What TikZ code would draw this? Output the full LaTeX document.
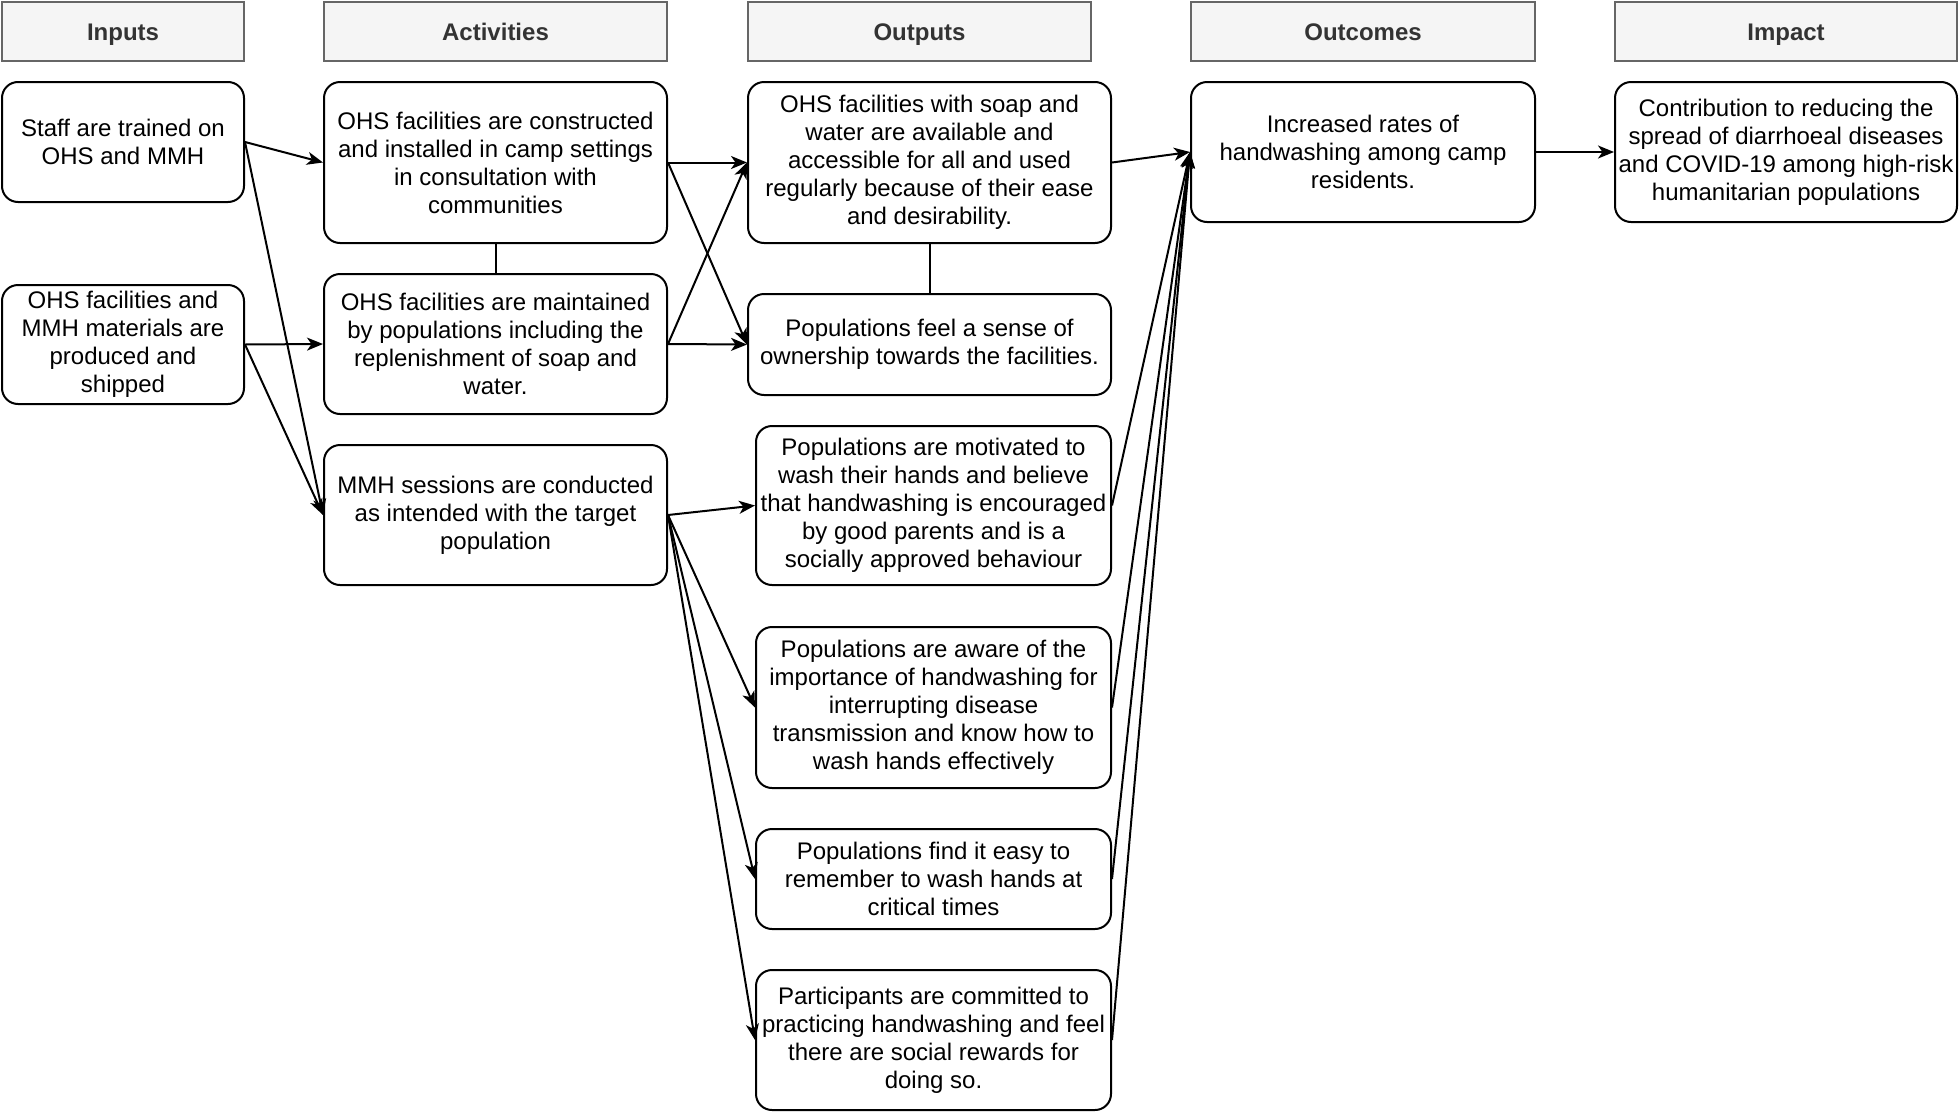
\documentclass[tikz,border=0pt]{standalone}
\usepackage{fontspec}
\setmainfont{Liberation Sans}
\usetikzlibrary{arrows.meta}
\definecolor{headfill}{HTML}{F5F5F5}
\definecolor{headline}{HTML}{666666}
\definecolor{headtext}{HTML}{333333}
\tikzset{
	head/.style={draw=headline,fill=headfill,text=headtext,line width=2pt,inner sep=0pt,minimum height=59pt,text height=17.2pt,text depth=0pt,font=\fontsize{24}{28}\selectfont\bfseries},
	box/.style={draw,rounded corners=16pt,line width=2pt,inner sep=0pt,align=center,font=\fontsize{24}{28}\selectfont},
	conn/.style={line width=2pt,-{Stealth[length=16pt,width=13pt,inset=4.5pt]}},
	link/.style={line width=2pt}
}
\begin{document}
\begin{tikzpicture}[x=1pt,y=-1pt]
			\useasboundingbox (0,0) rectangle (1960,1114);
			% column headers
			\node[head,minimum width=242pt] (hin) at (123,31.5) {Inputs};
			\node[head,minimum width=343pt] (hact) at (495.5,31.5) {Activities};
			\node[head,minimum width=343pt] (hout) at (919.5,31.5) {Outputs};
			\node[head,minimum width=344pt] (hoc) at (1363,31.5) {Outcomes};
			\node[head,minimum width=342pt] (him) at (1786,31.5) {Impact};
			% inputs
			\node[box,minimum width=242pt,minimum height=120pt] (staff) at (123,142) {Staff are trained on\\OHS and MMH};
			\node[box,minimum width=242pt,minimum height=119pt] (mat) at (123,344.5) {OHS facilities and\\MMH materials are\\produced and\\shipped};
			% activities
			\node[box,minimum width=343pt,minimum height=161pt] (act1) at (495.5,162.5) {OHS facilities are constructed\\and installed in camp settings\\in consultation with\\communities};
			\node[box,minimum width=343pt,minimum height=140pt] (act2) at (495.5,344) {OHS facilities are maintained\\by populations including the\\replenishment of soap and\\water.};
			\node[box,minimum width=343pt,minimum height=140pt] (act3) at (495.5,515) {MMH sessions are conducted\\as intended with the target\\population};
			% outputs
			\node[box,minimum width=363pt,minimum height=161pt] (out1) at (929.5,162.5) {OHS facilities with soap and\\water are available and\\accessible for all and used\\regularly because of their ease\\and desirability.};
			\node[box,minimum width=363pt,minimum height=101pt] (out2) at (929.5,344.5) {Populations feel a sense of\\ownership towards the facilities.};
			\node[box,minimum width=355pt,minimum height=159pt] (out3) at (933.5,505.5) {Populations are motivated to\\wash their hands and believe\\that handwashing is encouraged\\by good parents and is a\\socially approved behaviour};
			\node[box,minimum width=355pt,minimum height=161pt] (out4) at (933.5,707.5) {Populations are aware of the\\importance of handwashing for\\interrupting disease\\transmission and know how to\\wash hands effectively};
			\node[box,minimum width=355pt,minimum height=100pt] (out5) at (933.5,879) {Populations find it easy to\\remember to wash hands at\\critical times};
			\node[box,minimum width=355pt,minimum height=140pt] (out6) at (933.5,1040) {Participants are committed to\\practicing handwashing and feel\\there are social rewards for\\doing so.};
			% outcome and impact
			\node[box,minimum width=344pt,minimum height=140pt] (oc) at (1363,152) {Increased rates of\\handwashing among camp\\residents.};
			\node[box,minimum width=342pt,minimum height=140pt] (im) at (1786,152) {Contribution to reducing the\\spread of diarrhoeal diseases\\and COVID-19 among high-risk\\humanitarian populations};
			% connectors
			\draw[link] (act1) -- (act2);
			\draw[link] (out1) -- (out2);
			\foreach \a/\b in {staff/act1,staff/act3,mat/act2,mat/act3,act1/out1,act1/out2,act2/out1,act2/out2,act3/out3,act3/out4,act3/out5,act3/out6,out1/oc,out3/oc,out4/oc,out5/oc,out6/oc,oc/im}
				\draw[conn] (\a.east) -- (\b.west);
		\end{tikzpicture}
\end{document}
